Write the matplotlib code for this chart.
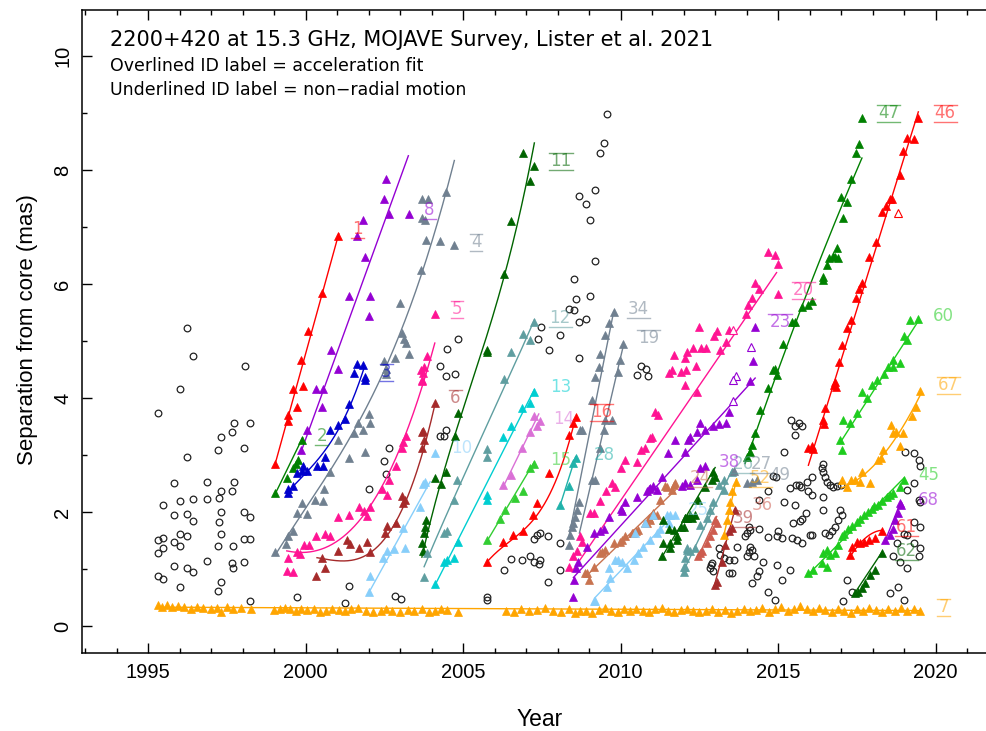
import numpy as np
import matplotlib.pyplot as plt

plt.rcParams['font.family'] = 'DejaVu Sans'

RED = '#FF0000'
VIOLET = '#9400D3'
BLUE = '#0000CD'
GREEN = '#008000'
GREY = '#708090'
PINK = '#FF1493'
BROWN = '#A52A2A'
SKY = '#87CEFA'
DKGREEN = '#006400'
CADET = '#5F9EA0'
TURQ = '#00CED1'
SEAGREEN = '#20B2AA'
ORCHID = '#DA70D6'
LIME = '#32CD32'
BRIGHT = '#1ECC1E'
SIENNA = '#C8734F'
SALMON = '#CD5C4F'
ORANGE = '#FFA500'

# jet components: epoch (yr), separation (mas), points along the fitted track
c1_yr = [1999.04, 1999.43, 1999.45, 1999.60, 1999.74, 1999.85, 1999.90, 2000.06, 2000.51, 2001.04]
c1_sep = [2.84, 3.70, 3.60, 4.16, 3.84, 4.67, 4.21, 5.18, 5.84, 6.85]
c1_fx, c1_fy = [1999.00, 2001.05], [2.78, 6.88]

c2_yr = [1999.04, 1999.42, 1999.61, 1999.69, 1999.75, 1999.88]
c2_sep = [2.33, 2.59, 2.78, 2.84, 2.91, 3.26]
c2_fx, c2_fy = [1999.00, 1999.90], [2.28, 3.30]

c3_yr = [1999.43, 1999.45, 1999.61, 1999.72, 1999.88, 1999.90, 2000.03, 2000.36, 2000.55, 2000.62,
         2000.78, 2001.04, 2001.25, 2001.38, 2001.54, 2001.64, 2001.83, 2001.89, 2001.87]
c3_sep = [2.33, 2.40, 2.46, 2.68, 2.72, 2.81, 2.72, 2.80, 2.81, 2.97,
          3.44, 3.53, 3.63, 3.89, 4.43, 4.60, 4.58, 4.36, 4.32]
c3_fx, c3_fy = [1999.40, 2000.20, 2001.30, 2001.85], [2.33, 2.80, 3.73, 4.52]

c4_yr = [1999.04, 1999.38, 1999.45, 1999.61, 1999.72, 1999.88, 2000.03, 2000.30, 2000.55, 2000.57,
         2000.78, 2001.02, 2001.38, 2001.52, 2001.66, 2001.81, 2001.89, 2002.02, 2002.05, 2002.49,
         2002.55, 2002.55, 2002.84, 2002.99, 2003.07, 2003.13, 2003.17, 2003.29, 2003.67, 2003.70,
         2003.70, 2003.79, 2003.83, 2003.87, 2004.27, 2004.46, 2004.72]
c4_sep = [1.29, 1.43, 1.57, 1.66, 1.98, 2.15, 1.96, 2.21, 2.20, 2.40,
          2.71, 3.26, 2.94, 3.39, 3.57, 3.43, 3.06, 3.72, 3.57, 4.65,
          4.42, 4.50, 4.71, 5.67, 5.14, 5.04, 4.96, 4.78, 6.25, 7.49,
          7.16, 7.12, 6.78, 7.49, 6.75, 7.61, 6.68]
c4_fx, c4_fy = [1999.04, 2000.78, 2002.47, 2003.67, 2004.72], [1.25, 2.74, 4.43, 6.18, 8.16]

c5_yr = [1999.40, 1999.45, 1999.61, 1999.72, 1999.83, 1999.95, 2000.12, 2000.33, 2000.60, 2000.76,
         2001.02, 2001.38, 2001.68, 2001.84, 2001.96, 2002.05, 2002.42, 2002.58, 2002.63, 2002.86,
         2003.05, 2003.10, 2003.19, 2003.67, 2003.69, 2003.70, 2003.72, 2003.76, 2003.85, 2004.11]
c5_sep = [0.97, 1.19, 0.95, 1.29, 1.26, 1.42, 1.42, 1.57, 1.61, 1.57,
          1.92, 1.95, 2.08, 2.01, 1.93, 2.08, 2.40, 2.30, 2.56, 2.80,
          3.13, 3.22, 3.33, 4.49, 4.29, 4.32, 4.43, 4.55, 4.73, 5.47]
c5_fx, c5_fy = [1999.40, 2000.00, 2000.80, 2001.85, 2002.90, 2004.10], [1.33, 1.27, 1.42, 1.98, 2.97, 4.97]

c6_yr = [2000.33, 2000.51, 2000.62, 2001.04, 2001.30, 2001.41, 2001.68, 2001.96, 2002.05, 2002.52,
         2002.57, 2002.86, 2003.05, 2003.10, 2003.16, 2003.69, 2003.69, 2003.72, 2003.76, 2004.11]
c6_sep = [0.88, 1.19, 1.01, 1.31, 1.51, 1.44, 1.36, 1.48, 1.29, 1.63,
          1.76, 1.81, 2.28, 2.15, 2.21, 3.41, 3.13, 3.42, 3.26, 3.92]
c6_fx, c6_fy = [2000.36, 2000.99, 2001.84, 2002.68, 2003.53, 2004.11], [1.22, 1.10, 1.22, 1.74, 2.62, 3.94]

c7_yr = [1995.30, 1995.45, 1995.60, 1995.75, 1995.95, 1996.15, 1996.35, 1996.55, 1996.75, 1997.00,
         1997.20, 1997.30, 1997.50, 1997.70, 1997.95, 1998.25, 1999.00, 1999.20, 1999.35, 1999.50,
         1999.70, 1999.85, 2000.05, 2000.25, 2000.45, 2000.65, 2000.85, 2001.05, 2001.25, 2001.45,
         2001.65, 2001.90, 2002.15, 2002.40, 2002.55, 2002.75, 2003.00, 2003.25, 2003.45, 2003.70,
         2003.90, 2004.10, 2004.30, 2004.50, 2004.85, 2006.35, 2006.60, 2006.85, 2007.10, 2007.35,
         2007.60, 2007.85, 2008.10, 2008.35, 2008.55, 2008.70, 2008.90, 2009.10, 2009.30, 2009.50,
         2009.70, 2009.90, 2010.10, 2010.30, 2010.50, 2010.70, 2010.90, 2011.10, 2011.30, 2011.50,
         2011.70, 2011.90, 2012.10, 2012.30, 2012.50, 2012.70, 2012.90, 2013.10, 2013.30, 2013.50,
         2013.70, 2013.90, 2014.10, 2014.30, 2014.50, 2014.70, 2014.90, 2015.10, 2015.30, 2015.50,
         2015.70, 2015.90, 2016.10, 2016.30, 2016.50, 2016.70, 2016.90, 2017.10, 2017.30, 2017.50,
         2017.70, 2017.90, 2018.10, 2018.30, 2018.50, 2018.70, 2018.90, 2019.10, 2019.30, 2019.50]
c7_sep = [0.37, 0.34, 0.36, 0.33, 0.35, 0.33, 0.30, 0.34, 0.32, 0.30,
          0.31, 0.24, 0.33, 0.29, 0.31, 0.30, 0.28, 0.30, 0.32, 0.29,
          0.27, 0.30, 0.28, 0.29, 0.25, 0.27, 0.30, 0.28, 0.26, 0.29,
          0.31, 0.26, 0.24, 0.27, 0.30, 0.27, 0.25, 0.28, 0.26, 0.29,
          0.25, 0.27, 0.30, 0.28, 0.25, 0.27, 0.25, 0.30, 0.26, 0.28,
          0.32, 0.27, 0.25, 0.29, 0.23, 0.27, 0.26, 0.22, 0.28, 0.31,
          0.27, 0.25, 0.29, 0.26, 0.30, 0.27, 0.24, 0.29, 0.31, 0.27,
          0.25, 0.28, 0.30, 0.26, 0.24, 0.27, 0.29, 0.25, 0.28, 0.23,
          0.27, 0.30, 0.26, 0.28, 0.31, 0.25, 0.29, 0.33, 0.27, 0.30,
          0.35, 0.29, 0.26, 0.31, 0.28, 0.24, 0.30, 0.27, 0.22, 0.29,
          0.26, 0.31, 0.28, 0.25, 0.30, 0.27, 0.31, 0.26, 0.29, 0.27]
c7_fx, c7_fy = [1995.30, 2019.50], [0.33, 0.27]

c8_yr = [1999.85, 2000.03, 2000.33, 2000.52, 2000.55, 2000.79, 2001.04, 2001.38, 2001.64, 2001.83,
         2001.88, 2002.00, 2002.05, 2002.49, 2002.56, 2002.64, 2003.28]
c8_sep = [3.08, 3.43, 4.16, 3.84, 4.16, 4.84, 4.50, 5.79, 6.85, 7.12,
          6.48, 5.44, 5.79, 7.50, 7.85, 7.23, 7.23]
c8_fx, c8_fy = [1999.85, 2003.26], [3.05, 8.25]

c10_yr = [2002.02, 2002.05, 2002.47, 2002.57, 2002.79, 2003.10, 2003.16, 2003.63, 2003.73, 2003.78, 2004.11]
c10_sep = [0.60, 0.88, 1.19, 1.31, 1.35, 1.72, 1.36, 2.09, 2.49, 2.52, 3.04]
c10_fx, c10_fy = [2002.02, 2003.95], [0.60, 2.53]

c11_yr = [2003.69, 2003.74, 2003.76, 2003.79, 2003.83, 2004.11, 2004.29, 2004.45, 2004.75, 2004.85,
          2005.77, 2005.77, 2006.29, 2006.52, 2006.89, 2007.13, 2007.26]
c11_sep = [1.45, 1.31, 1.63, 1.74, 1.86, 2.59, 2.49, 2.71, 3.33, 3.73,
           4.85, 4.81, 6.18, 7.10, 8.30, 7.81, 8.07]
c11_fx, c11_fy = [2003.69, 2004.85, 2005.77, 2006.28, 2007.26], [1.20, 3.60, 5.00, 6.19, 8.46]

c12_yr = [2003.76, 2003.85, 2004.38, 2004.48, 2004.72, 2004.82, 2005.75, 2005.77, 2006.29, 2006.52,
          2006.89, 2007.13, 2007.26]
c12_sep = [0.86, 1.28, 1.63, 1.66, 2.21, 2.57, 2.97, 3.10, 4.33, 4.80, 5.12, 5.01, 5.33]
c12_fx, c12_fy = [2003.76, 2005.11, 2006.70, 2007.26], [1.04, 2.74, 4.67, 5.37]

c13_yr = [2004.11, 2004.38, 2004.48, 2004.72, 2004.85, 2005.77, 2005.77, 2006.28, 2006.52, 2006.88,
          2007.13, 2007.26]
c13_sep = [0.74, 1.12, 1.16, 1.19, 1.48, 2.21, 2.30, 3.32, 3.50, 3.82, 3.91, 4.11]
c13_fx, c13_fy = [2004.11, 2007.26], [0.72, 4.15]

c14_yr = [2006.28, 2006.52, 2006.88, 2007.13, 2007.26, 2007.34, 2007.44]
c14_sep = [2.47, 2.65, 3.13, 3.41, 3.68, 3.50, 3.59]
c14_fx, c14_fy = [2006.28, 2007.40], [2.45, 3.72]

c15_yr = [2005.77, 2006.17, 2006.33, 2006.65, 2006.89, 2007.13, 2007.26]
c15_sep = [1.51, 1.87, 2.04, 2.25, 2.36, 2.77, 2.84]
c15_fx, c15_fy = [2005.77, 2007.26], [1.50, 2.88]

c16_yr = [2005.77, 2006.28, 2006.59, 2006.89, 2007.23, 2007.34, 2007.71, 2008.35, 2008.50, 2008.57]
c16_sep = [1.12, 1.48, 1.60, 1.66, 1.95, 2.15, 2.68, 3.35, 3.56, 3.66]
c16_fx, c16_fy = [2005.77, 2006.81, 2007.65, 2008.57], [1.13, 1.63, 2.21, 3.66]

c19_yr = [2008.56, 2008.60, 2008.69, 2009.08, 2009.19, 2009.35, 2009.46, 2009.51, 2009.72, 2009.93,
          2009.98, 2010.09]
c19_sep = [1.92, 2.04, 2.18, 2.56, 2.56, 3.12, 3.44, 3.61, 3.61, 4.46, 4.67, 4.94]
c19_fx, c19_fy = [2008.69, 2010.09], [1.63, 4.93]

c20_yr = [2008.35, 2008.50, 2008.60, 2008.71, 2008.76, 2009.03, 2009.35, 2009.54, 2009.72, 2010.00,
          2010.14, 2010.53, 2010.64, 2010.78, 2010.99, 2011.10, 2011.62, 2011.90, 2012.05, 2012.05,
          2012.08, 2012.31, 2012.40, 2012.42, 2012.50, 2012.55, 2012.70, 2012.97, 2013.05, 2013.16,
          2013.35, 2013.44, 2013.97, 2014.05, 2014.16, 2014.27, 2014.40, 2014.69, 2014.90, 2014.98,
          2014.98, 2011.68, 2012.10, 2011.52, 2011.20, 2010.94, 2009.83, 2009.14]
c20_sep = [1.04, 1.22, 1.31, 1.57, 1.48, 1.98, 2.20, 2.37, 2.50, 2.77,
           2.91, 2.88, 3.09, 3.13, 3.32, 3.76, 4.49, 4.45, 4.23, 4.70,
           4.49, 4.87, 4.56, 4.11, 5.25, 4.87, 4.87, 5.08, 5.17, 4.85,
           4.99, 5.19, 5.47, 5.63, 5.75, 6.01, 5.91, 6.57, 6.51, 6.35,
           5.82, 4.75, 4.81, 4.43, 3.70, 3.29, 2.44, 1.98]
c20_fx, c20_fy = [2008.45, 2014.95], [0.95, 6.20]

c23_yr = [2008.50, 2008.52, 2008.57, 2008.66, 2008.92, 2009.35, 2009.62, 2010.00, 2010.05, 2010.51,
          2010.83, 2010.90, 2011.04, 2011.30, 2011.73, 2012.05, 2012.15, 2012.21, 2012.42, 2012.52,
          2012.68, 2012.94, 2013.13, 2013.35, 2013.45, 2014.11, 2014.19, 2014.27, 2011.50, 2010.94,
          2011.14, 2010.14, 2009.46, 2009.14]
c23_sep = [0.51, 0.81, 1.01, 1.13, 1.39, 1.66, 1.92, 2.06, 2.02, 2.27,
           2.37, 2.40, 2.45, 2.62, 3.26, 3.06, 3.26, 3.32, 3.41, 3.56,
           3.44, 3.50, 3.54, 3.56, 3.76, 4.29, 4.65, 5.25, 3.03, 2.42,
           2.39, 2.18, 1.71, 1.63]
c23_fx, c23_fy = [2008.50, 2014.27], [0.85, 4.35]

c24_yr = [2008.87, 2008.92, 2008.98, 2009.14, 2009.35, 2009.40, 2009.51, 2009.78, 2009.98, 2010.04,
          2010.14, 2010.36, 2010.40, 2010.50, 2010.56, 2010.78, 2010.83, 2010.89, 2010.94, 2011.04,
          2011.15, 2011.25, 2011.41, 2011.46, 2011.62, 2011.68, 2011.73]
c24_sep = [0.93, 0.93, 0.81, 1.04, 1.28, 1.29, 1.33, 1.45, 1.48, 1.51,
           1.57, 1.63, 1.63, 1.66, 1.68, 1.80, 1.80, 1.89, 1.86, 1.98,
           1.95, 2.21, 2.45, 2.44, 2.39, 2.47, 2.50]
c24_fx, c24_fy = [2008.95, 2011.73], [0.90, 2.38]

c25_yr = [2009.14, 2009.19, 2009.56, 2009.62, 2009.67, 2009.82, 2009.90, 2010.05, 2010.20, 2010.41,
          2010.46, 2010.56, 2010.72, 2010.78, 2010.94, 2011.04, 2011.14, 2011.25, 2011.46, 2011.52,
          2011.57, 2011.73]
c25_sep = [0.43, 0.43, 0.69, 1.01, 0.84, 1.16, 1.15, 1.13, 1.01, 1.16,
           1.63, 1.28, 1.39, 1.80, 1.51, 1.95, 1.63, 1.71, 1.95, 1.80,
           1.95, 1.95]
c25_fx, c25_fy = [2009.19, 2011.60], [0.50, 1.90]

c26_yr = [2012.00, 2012.00, 2012.05, 2012.05, 2012.10, 2012.10, 2012.21, 2012.37, 2012.52, 2012.73,
          2012.84, 2012.94, 2013.12, 2013.28, 2013.28, 2013.53]
c26_sep = [0.95, 1.04, 1.04, 1.19, 1.33, 1.36, 1.31, 1.36, 1.77, 1.89,
           2.04, 2.18, 2.47, 2.39, 2.56, 2.71]
c26_fx, c26_fy = [2012.00, 2013.55], [0.97, 2.75]

c27_yr = [2013.60, 2014.00, 2014.16, 2014.32]
c27_sep = [2.72, 2.50, 2.53, 2.56]

c28_yr = [2008.08, 2008.37, 2008.50, 2008.57]
c28_sep = [2.12, 2.45, 2.86, 2.94]
c28_fx, c28_fy = [2008.08, 2008.57], [2.12, 2.97]

c31_yr = [2011.30, 2011.35, 2011.36, 2011.52, 2011.57, 2011.57, 2011.68, 2011.78, 2011.78, 2011.90,
          2012.00, 2012.05, 2012.05, 2012.10, 2012.21, 2012.26, 2012.37, 2012.47, 2012.68, 2012.89,
          2012.94, 2013.00]
c31_sep = [1.22, 1.45, 1.86, 1.71, 1.36, 1.45, 1.68, 1.51, 1.57, 1.74,
           1.74, 1.89, 1.89, 1.89, 1.95, 1.89, 1.95, 2.21, 2.44, 2.56,
           2.71, 2.62]
c31_fx, c31_fy = [2011.30, 2013.00], [1.20, 2.78]

c34_yr = [2008.35, 2008.40, 2008.45, 2008.50, 2008.71, 2008.76, 2009.08, 2009.19, 2009.30, 2009.35,
          2009.51, 2009.62, 2009.78]
c34_sep = [1.42, 1.60, 1.74, 1.80, 3.43, 3.44, 3.96, 4.37, 4.55, 4.78, 5.10, 5.31, 5.50]
c34_fx, c34_fy = [2008.35, 2009.78], [1.55, 5.52]

c36_yr = [2012.47, 2012.52, 2012.57, 2012.73, 2012.84, 2012.94, 2013.00, 2013.05]
c36_sep = [1.22, 1.28, 1.31, 1.45, 1.57, 1.68, 1.86, 1.80]
c36_fx, c36_fy = [2012.45, 2013.05], [1.20, 1.92]

c38_yr = [2011.95, 2012.05, 2012.20, 2012.42, 2012.52, 2012.68]
c38_sep = [2.45, 2.50, 2.47, 2.56, 2.77, 2.80]

c39_yr = [2013.00, 2013.05, 2013.21, 2013.32, 2013.43, 2013.53, 2013.63]
c39_sep = [0.72, 0.78, 1.13, 1.42, 1.66, 1.72, 2.04]
c39_fx, c39_fy = [2012.98, 2013.63], [0.72, 2.05]

c45_yr = [2015.96, 2016.12, 2016.38, 2016.43, 2016.54, 2016.54, 2016.65, 2016.81, 2016.91, 2017.02,
          2017.23, 2017.50, 2017.71, 2017.97, 2018.18, 2018.45, 2018.66, 2018.87, 2018.98, 2017.10,
          2017.35, 2017.60, 2017.85, 2018.05, 2018.30, 2018.55]
c45_sep = [0.93, 0.98, 1.10, 1.28, 1.33, 1.04, 1.25, 1.28, 1.42, 1.57,
           1.70, 1.83, 1.95, 2.06, 2.12, 2.27, 2.33, 2.44, 2.57, 1.62,
           1.76, 1.88, 2.00, 2.10, 2.20, 2.30]
c45_fx, c45_fy = [2015.95, 2019.00], [0.90, 2.60]

c46_yr = [2015.96, 2016.07, 2016.10, 2016.43, 2016.45, 2016.49, 2016.78, 2016.81, 2016.84, 2016.94,
          2017.04, 2017.18, 2017.31, 2017.48, 2017.58, 2017.66, 2017.90, 2018.10, 2018.31, 2018.43,
          2018.55, 2018.60, 2018.87, 2018.96, 2019.09, 2019.30, 2019.45]
c46_sep = [3.12, 3.15, 3.10, 3.61, 3.55, 3.82, 4.23, 4.28, 4.20, 4.64,
           4.93, 5.22, 5.37, 5.75, 5.92, 6.01, 6.48, 6.73, 7.26, 7.36,
           7.50, 7.50, 7.92, 8.34, 8.57, 8.54, 8.91]
c46_fx, c46_fy = [2015.96, 2019.45], [2.82, 9.02]

c47_yr = [2014.00, 2014.11, 2014.16, 2014.27, 2014.41, 2014.69, 2014.85, 2014.90, 2014.95, 2015.14,
          2015.45, 2015.54, 2015.75, 2015.96, 2016.07, 2016.41, 2016.43, 2016.54, 2016.60, 2016.75,
          2016.81, 2016.86, 2016.90, 2017.00, 2017.07, 2017.20, 2017.31, 2017.48, 2017.58, 2017.66]
c47_sep = [2.97, 3.06, 3.18, 3.39, 3.79, 4.17, 4.49, 4.50, 4.40, 4.94,
           5.34, 5.34, 5.60, 5.63, 5.71, 6.07, 6.13, 6.33, 6.45, 6.50,
           6.48, 6.63, 6.45, 7.53, 7.16, 7.43, 7.84, 8.30, 8.45, 8.92]
c47_fx, c47_fy = [2013.95, 2014.96, 2017.66], [2.85, 4.43, 8.21]

c52_yr = [2013.28, 2013.37, 2013.43, 2013.48, 2013.53, 2013.65]
c52_sep = [1.60, 1.86, 2.04, 2.18, 2.36, 2.53]
c52_fx, c52_fy = [2013.28, 2013.68], [1.60, 2.58]

c60_yr = [2016.97, 2017.02, 2017.07, 2017.28, 2017.49, 2017.66, 2017.81, 2017.97, 2018.13, 2018.35,
          2018.50, 2018.66, 2018.66, 2018.87, 2018.98, 2019.08, 2019.19, 2019.45]
c60_sep = [3.26, 3.09, 3.61, 3.56, 3.73, 4.11, 4.00, 4.23, 4.32, 4.42,
           4.54, 4.55, 4.67, 4.62, 5.08, 5.02, 5.36, 5.38]
c60_fx, c60_fy = [2016.95, 2019.45], [3.20, 5.35]

c61_yr = [2017.29, 2017.34, 2017.50, 2017.60, 2017.71, 2017.87, 2018.08, 2018.29]
c61_sep = [1.25, 1.39, 1.48, 1.45, 1.48, 1.51, 1.54, 1.66]
c61_fx, c61_fy = [2017.29, 2017.60, 2018.30], [1.22, 1.45, 1.68]

c62_yr = [2017.45, 2017.52, 2017.66, 2017.76, 2017.92, 2018.08, 2018.29]
c62_sep = [0.57, 0.60, 0.66, 0.75, 0.89, 0.98, 1.28]
c62_fx, c62_fy = [2017.40, 2018.30], [0.55, 1.30]

c67_yr = [2017.02, 2017.18, 2017.30, 2017.45, 2017.60, 2017.66, 2017.92, 2018.18, 2018.25, 2018.32,
          2018.57, 2018.66, 2018.75, 2018.87, 2018.95, 2019.24, 2019.38, 2019.51]
c67_sep = [2.56, 2.44, 2.56, 2.56, 2.53, 2.71, 2.50, 2.91, 2.95, 3.09,
           3.53, 3.38, 3.40, 3.15, 3.38, 3.68, 3.85, 4.12]
c67_fx, c67_fy = [2017.00, 2018.18, 2019.51], [2.42, 2.90, 4.05]

c68_yr = [2018.40, 2018.55, 2018.66, 2018.71, 2018.82, 2018.87, 2018.90]
c68_sep = [1.51, 1.60, 1.71, 1.86, 1.98, 2.15, 2.12]
c68_fx, c68_fy = [2018.40, 2018.87], [1.50, 2.15]

# epochs left out of the kinematic fits (open triangles)
hollow_yr = [2014.13, 2013.67, 2013.58, 2013.58, 2013.58, 2018.79]
hollow_sep = [4.90, 4.39, 4.32, 3.94, 5.19, 7.25]
hollow_col = [VIOLET, VIOLET, VIOLET, VIOLET, PINK, RED]

# unidentified / non-robust features (open circles)
open_circles = [
    (1995.32, 3.74), (1996.23, 5.22), (1996.42, 4.73), (1996.00, 4.15), (1998.06, 4.56),
    (1997.71, 3.57), (1998.22, 3.57), (1997.66, 3.41), (1997.31, 3.32), (1998.05, 3.13),
    (1997.23, 3.09), (1996.22, 2.97), (1995.81, 2.51), (1996.87, 2.52), (1997.71, 2.53),
    (1997.31, 2.37), (1997.66, 2.36), (1995.48, 2.12), (1996.00, 2.19), (1996.41, 2.23),
    (1996.87, 2.23), (1997.24, 2.24), (1995.81, 1.95), (1996.22, 1.97), (1996.43, 1.85),
    (1997.31, 2.00), (1997.24, 1.82), (1998.05, 2.00), (1998.23, 1.91), (1996.00, 1.61),
    (1996.22, 1.58), (1995.81, 1.47), (1996.00, 1.41), (1995.32, 1.50), (1995.48, 1.55),
    (1995.32, 1.28), (1995.48, 1.36), (1997.31, 1.61), (1997.23, 1.40), (1997.70, 1.40),
    (1998.05, 1.53), (1998.22, 1.52), (1996.87, 1.14), (1995.81, 1.06), (1996.22, 1.01),
    (1996.43, 0.95), (1997.66, 1.11), (1997.70, 1.01), (1998.05, 1.13), (1995.32, 0.88),
    (1995.48, 0.83), (1996.00, 0.68), (1997.32, 0.77), (1997.23, 0.61), (1998.22, 0.43),
    (1999.74, 0.50), (2001.38, 0.70), (2001.26, 0.40), (2002.64, 3.13), (2002.49, 2.89),
    (2002.55, 2.66), (2002.02, 2.40), (2002.85, 0.53), (2003.03, 0.48),
    (2004.84, 5.03), (2004.48, 4.86), (2004.28, 4.56), (2004.46, 4.39), (2004.74, 4.42),
    (2004.46, 3.43), (2004.38, 3.34), (2004.28, 3.33),
    (2009.58, 8.98), (2009.48, 8.47), (2009.36, 8.30), (2009.17, 7.65), (2008.69, 7.54),
    (2008.91, 7.40), (2009.04, 7.12), (2009.17, 6.41), (2008.53, 6.09), (2009.04, 5.79),
    (2008.57, 5.73), (2008.37, 5.56), (2008.51, 5.54), (2008.69, 5.34), (2008.91, 5.38),
    (2007.48, 5.24), (2008.06, 5.11), (2007.38, 5.04), (2007.71, 4.85), (2008.69, 4.71),
    (2010.66, 4.57), (2010.80, 4.51), (2010.52, 4.40), (2010.88, 4.38),
    (2007.44, 1.63), (2007.36, 1.59), (2007.26, 1.53), (2007.70, 1.58), (2008.06, 1.46),
    (2006.52, 1.18), (2006.88, 1.16), (2007.13, 1.23), (2007.26, 1.13), (2007.44, 1.15),
    (2007.40, 1.09), (2006.29, 0.99), (2008.06, 0.99), (2007.70, 0.78), (2005.77, 0.50),
    (2005.77, 0.46),
    (2015.40, 3.61), (2015.67, 3.57), (2015.54, 3.50), (2015.76, 3.51), (2015.54, 3.35),
    (2015.17, 3.06), (2014.94, 2.61), (2014.84, 2.63), (2015.38, 2.42), (2015.58, 2.47),
    (2015.66, 2.47), (2015.72, 2.44), (2015.96, 2.36), (2015.91, 2.53), (2014.69, 2.36),
    (2014.38, 2.21), (2015.17, 2.18), (2015.54, 2.12), (2015.48, 1.80), (2015.75, 1.88),
    (2015.70, 1.84), (2016.02, 1.60), (2015.43, 1.54), (2015.59, 1.51), (2015.75, 1.45),
    (2015.00, 1.66), (2014.95, 1.58), (2015.11, 1.54), (2014.69, 1.56), (2014.53, 1.13),
    (2014.95, 1.07), (2015.38, 0.98), (2015.11, 0.81), (2014.69, 0.60), (2014.90, 0.46),
    (2014.06, 1.74), (2014.11, 1.68), (2014.00, 1.63), (2014.38, 1.71), (2013.95, 1.57),
    (2013.69, 1.39), (2014.11, 1.39), (2014.16, 1.33), (2014.06, 1.30), (2014.00, 1.22),
    (2014.22, 1.22), (2013.59, 1.16), (2013.45, 1.16), (2013.43, 0.93), (2013.53, 0.93),
    (2014.38, 0.96), (2014.32, 0.87), (2014.16, 0.75), (2013.12, 1.36), (2013.16, 1.25),
    (2012.89, 1.11), (2012.84, 1.02), (2012.94, 0.97), (2012.87, 1.07), (2013.28, 1.19),
    (2015.89, 1.99),
    (2016.43, 2.85), (2016.38, 2.77), (2016.43, 2.71), (2016.49, 2.62), (2016.54, 2.53),
    (2016.65, 2.47), (2016.75, 2.44), (2016.86, 2.46), (2016.99, 2.47), (2016.07, 2.62),
    (2016.07, 2.30), (2016.43, 2.26), (2016.43, 2.04), (2016.97, 2.04), (2017.02, 1.95),
    (2016.91, 1.86), (2016.81, 1.74), (2016.70, 1.66), (2016.60, 1.60), (2016.49, 1.63),
    (2016.07, 1.60),
    (2019.03, 3.06), (2019.30, 3.04), (2019.46, 2.91), (2019.51, 2.81), (2019.46, 2.21),
    (2019.50, 2.18), (2019.08, 2.39), (2019.30, 2.51), (2019.30, 1.83), (2019.51, 1.74),
    (2019.08, 1.60), (2019.00, 1.62), (2018.76, 1.45), (2019.30, 1.45), (2019.51, 1.36),
    (2019.46, 1.22), (2018.66, 1.22), (2018.87, 1.13), (2019.08, 1.01), (2017.18, 0.81),
    (2017.34, 0.60), (2018.55, 0.57), (2018.79, 0.69), (2019.00, 0.46), (2017.07, 0.43),
]

comps = [
    (c7_yr, c7_sep, c7_fx, c7_fy, ORANGE),
    (c1_yr, c1_sep, c1_fx, c1_fy, RED),
    (c2_yr, c2_sep, c2_fx, c2_fy, GREEN),
    (c3_yr, c3_sep, c3_fx, c3_fy, BLUE),
    (c4_yr, c4_sep, c4_fx, c4_fy, GREY),
    (c5_yr, c5_sep, c5_fx, c5_fy, PINK),
    (c6_yr, c6_sep, c6_fx, c6_fy, BROWN),
    (c8_yr, c8_sep, c8_fx, c8_fy, VIOLET),
    (c10_yr, c10_sep, c10_fx, c10_fy, SKY),
    (c11_yr, c11_sep, c11_fx, c11_fy, DKGREEN),
    (c12_yr, c12_sep, c12_fx, c12_fy, CADET),
    (c13_yr, c13_sep, c13_fx, c13_fy, TURQ),
    (c14_yr, c14_sep, c14_fx, c14_fy, ORCHID),
    (c15_yr, c15_sep, c15_fx, c15_fy, LIME),
    (c16_yr, c16_sep, c16_fx, c16_fy, RED),
    (c19_yr, c19_sep, c19_fx, c19_fy, GREY),
    (c20_yr, c20_sep, c20_fx, c20_fy, PINK),
    (c23_yr, c23_sep, c23_fx, c23_fy, VIOLET),
    (c24_yr, c24_sep, c24_fx, c24_fy, SIENNA),
    (c25_yr, c25_sep, c25_fx, c25_fy, SKY),
    (c26_yr, c26_sep, c26_fx, c26_fy, CADET),
    (c27_yr, c27_sep, None, None, GREY),
    (c28_yr, c28_sep, c28_fx, c28_fy, SEAGREEN),
    (c31_yr, c31_sep, c31_fx, c31_fy, DKGREEN),
    (c34_yr, c34_sep, c34_fx, c34_fy, GREY),
    (c36_yr, c36_sep, c36_fx, c36_fy, SALMON),
    (c38_yr, c38_sep, None, None, VIOLET),
    (c39_yr, c39_sep, c39_fx, c39_fy, BROWN),
    (c45_yr, c45_sep, c45_fx, c45_fy, BRIGHT),
    (c46_yr, c46_sep, c46_fx, c46_fy, RED),
    (c47_yr, c47_sep, c47_fx, c47_fy, GREEN),
    (c52_yr, c52_sep, c52_fx, c52_fy, ORANGE),
    (c60_yr, c60_sep, c60_fx, c60_fy, BRIGHT),
    (c61_yr, c61_sep, c61_fx, c61_fy, RED),
    (c62_yr, c62_sep, c62_fx, c62_fy, DKGREEN),
    (c67_yr, c67_sep, c67_fx, c67_fy, ORANGE),
    (c68_yr, c68_sep, c68_fx, c68_fy, VIOLET),
]

# component ID labels
label_txt = ['1', '2', '3', '4', '5', '6', '7', '8', '10', '11',
             '12', '13', '14', '15', '16', '19', '20', '23', '24', '25',
             '26', '27', '28', '34', '36', '38', '39', '45', '46', '47',
             '49', '52', '60', '61', '62', '67', '68']
label_x = [2001.65, 2000.51, 2002.56, 2005.41, 2004.80, 2004.75, 2020.25, 2003.93, 2004.96, 2008.11,
           2008.08, 2008.11, 2008.19, 2008.11, 2009.40, 2010.89, 2015.80, 2015.06, 2012.52, 2012.47,
           2013.88, 2014.48, 2009.48, 2010.57, 2014.48, 2013.45, 2013.90, 2019.77, 2020.30, 2018.50,
           2015.06, 2014.43, 2020.25, 2019.08, 2019.08, 2020.40, 2019.77]
label_y = [6.97, 3.33, 4.46, 6.74, 5.56, 4.00, 0.34, 7.30, 3.12, 8.15,
           5.40, 4.20, 3.63, 2.91, 3.76, 5.05, 5.89, 5.34, 2.59, 2.04,
           2.85, 2.84, 3.00, 5.56, 2.12, 2.87, 1.89, 2.65, 9.00, 9.00,
           2.65, 2.60, 5.44, 1.74, 1.31, 4.23, 2.21]
label_col = [RED, GREEN, BLUE, GREY, PINK, BROWN, ORANGE, VIOLET, SKY, DKGREEN,
             CADET, TURQ, ORCHID, LIME, RED, GREY, PINK, VIOLET, SIENNA, SKY,
             CADET, GREY, SEAGREEN, GREY, SALMON, VIOLET, BROWN, BRIGHT, RED, GREEN,
             GREY, ORANGE, BRIGHT, RED, DKGREEN, ORANGE, VIOLET]
label_over = [0, 0, 1, 1, 1, 1, 1, 0, 0, 1,
              0, 0, 0, 0, 1, 1, 1, 1, 0, 0,
              0, 0, 0, 0, 0, 0, 0, 0, 1, 1,
              0, 0, 0, 0, 0, 1, 0]
label_under = [1, 1, 1, 1, 1, 0, 1, 1, 0, 1,
               1, 0, 0, 0, 1, 0, 1, 0, 1, 0,
               1, 1, 0, 1, 0, 0, 1, 0, 1, 1,
               0, 1, 0, 1, 1, 1, 0]

fig = plt.figure(figsize=(9.87, 7.31), dpi=100)
ax = fig.add_axes([0.0831, 0.1067, 0.9287, 0.8796])
ax.set_xlim(1992.9, 2022.0)
ax.set_ylim(-0.474, 10.807)

cx, cy = np.array(open_circles).T
ax.plot(cx, cy, 'o', ms=4.8, mfc='none', mec='#222222', mew=0.9, zorder=2)

for yr, sep, fx, fy, col in comps:
    if fx is not None:
        deg = min(len(fx) - 1, 3)
        p = np.polyfit(fx, fy, deg)
        xx = np.linspace(fx[0], fx[-1], 200)
        ax.plot(xx, np.polyval(p, xx), '-', color=col, lw=1.0, zorder=2.5)
    ax.plot(yr, sep, '^', ms=5.2, color=col, mec=col, mew=0.5, zorder=3)

for hx, hy, hc in zip(hollow_yr, hollow_sep, hollow_col):
    ax.plot(hx, hy, '^', ms=5.2, mfc='white', mec=hc, mew=0.8, zorder=3)

texts = []
for t, x, y, c in zip(label_txt, label_x, label_y, label_col):
    texts.append(ax.text(x, y, t, color=c, alpha=0.55, fontsize=12,
                         ha='center', va='center', zorder=4))

# over/underline bars sized to each rendered label
fig.canvas.draw()
rend = fig.canvas.get_renderer()
inv = ax.transData.inverted()
for txt, c, over, under in zip(texts, label_col, label_over, label_under):
    bb = txt.get_window_extent(rend)
    (x0, y0), (x1, y1) = inv.transform([[bb.x0 - 1, bb.y0], [bb.x1 + 1, bb.y1 - 1]])
    if over:
        ax.plot([x0, x1], [y1, y1], color=c, alpha=0.55, lw=1.0, zorder=4)
    if under:
        ax.plot([x0, x1], [y0, y0], color=c, alpha=0.55, lw=1.0, zorder=4)

ax.set_xticks([1995, 2000, 2005, 2010, 2015, 2020])
ax.set_xticks(np.arange(1993, 2023), minor=True)
ax.set_yticks([0, 2, 4, 6, 8, 10])
ax.set_yticks(np.arange(0, 11), minor=True)
ax.tick_params(which='both', direction='in', top=True, right=True, width=1.0, color='black')
ax.tick_params(which='major', length=7)
ax.tick_params(which='minor', length=3.5)
ax.tick_params(axis='x', labelsize=14.5, pad=7, labelfontfamily='Liberation Sans')
ax.tick_params(axis='y', labelsize=14.5, pad=7, labelrotation=90, labelfontfamily='Liberation Sans')
for lbl in ax.get_yticklabels():
    lbl.set_va('center')
for s in ax.spines.values():
    s.set_linewidth(1.1)
# the frame runs past the right edge of the canvas
ax.spines['right'].set_visible(False)

fig.text(540 / 987, 1 - 720 / 731, 'Year', fontsize=16.5, family='Liberation Sans',
         ha='center', va='center')
fig.text(28 / 987, 1 - 330 / 731, 'Separation from core (mas)', fontsize=16,
         family='Liberation Sans', rotation=90, ha='center', va='center')

fig.text(110 / 987, 1 - 40 / 731, '2200+420 at 15.3 GHz, MOJAVE Survey, Lister et al. 2021',
         fontsize=15, ha='left', va='center')
fig.text(110 / 987, 1 - 66 / 731, 'Overlined ID label = acceleration fit',
         fontsize=12.5, ha='left', va='center')
fig.text(110 / 987, 1 - 90 / 731, 'Underlined ID label = non\u2212radial motion',
         fontsize=12.5, ha='left', va='center')

fig.savefig('out.png', dpi=100)
